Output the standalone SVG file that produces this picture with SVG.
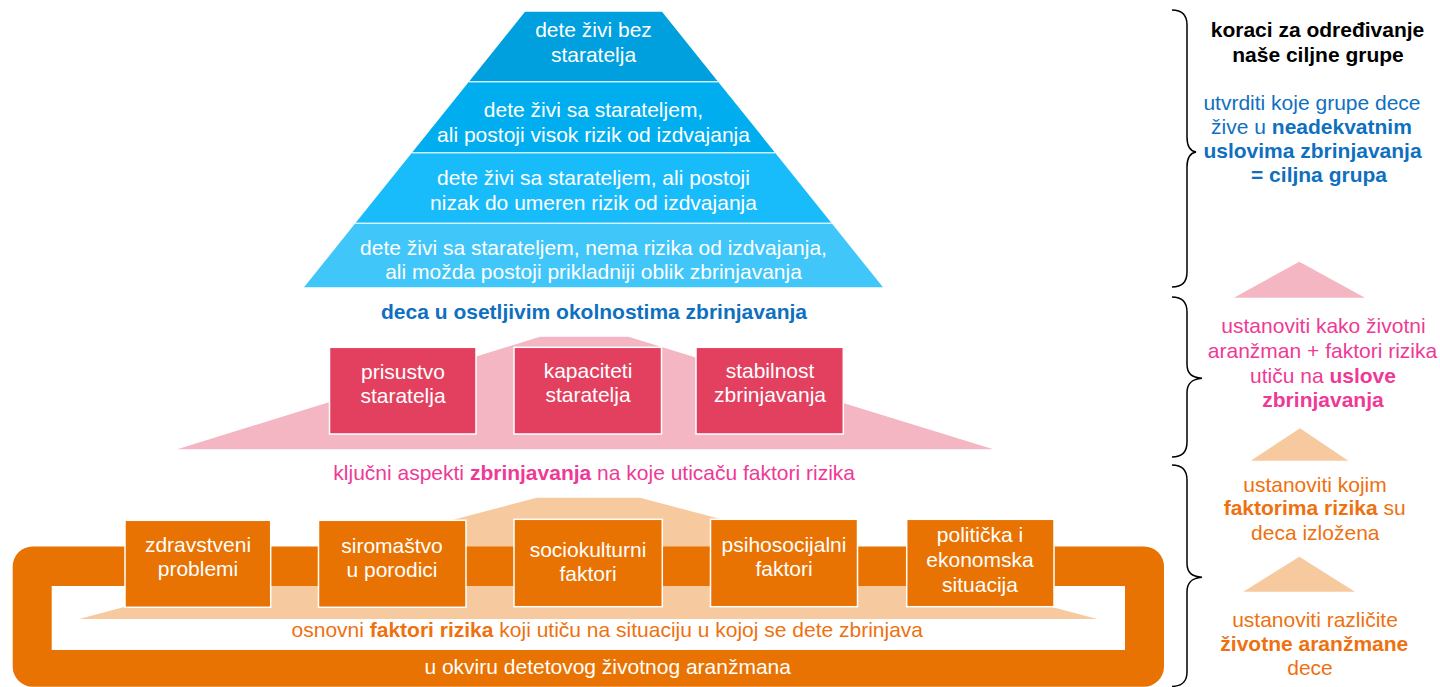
<svg xmlns="http://www.w3.org/2000/svg" width="1440" height="687" viewBox="0 0 1440 687">
<style>
.t{font-family:"Liberation Sans",Arial,sans-serif;font-size:21px;text-anchor:middle}
.w{fill:#ffffff}
.b{font-weight:bold}
.blue{fill:#0F70C0}
.pink{fill:#EE3A96}
.org{fill:#EE7110}
.blk{fill:#000000}
.pbox{fill:#E3405F;stroke:#ffffff;stroke-width:1.5}
.obox{fill:#E97302;stroke:#ffffff;stroke-width:1.5}
.sep{stroke:#ffffff;stroke-width:1.5;stroke-opacity:0.75}
.brace{fill:none;stroke:#000000;stroke-width:1.5}
</style>

<g id="pyramid">
  <polygon points="525,11.7 662,11.7 718.1,81.7 468.9,81.7" fill="#009FDD"/>
  <polygon points="468.9,81.7 718.1,81.7 775.1,152.7 411.9,152.7" fill="#00AEEF"/>
  <polygon points="411.9,152.7 775.1,152.7 831.7,223.3 355.3,223.3" fill="#19BCFA"/>
  <polygon points="355.3,223.3 831.7,223.3 883,287.3 304,287.3" fill="#41C6FA"/>
  <line class="sep" x1="468.9" y1="81.7" x2="718.1" y2="81.7"/>
  <line class="sep" x1="411.9" y1="152.7" x2="775.1" y2="152.7"/>
  <line class="sep" x1="355.3" y1="223.3" x2="831.7" y2="223.3"/>
</g>
<g id="level1">
  <text class="t w" x="593.5" y="36.7">dete živi bez</text>
  <text class="t w" x="593.5" y="61.7">staratelja</text>
</g>
<g id="level2">
  <text class="t w" x="593.5" y="116.7">dete živi sa starateljem,</text>
  <text class="t w" x="593.5" y="141.7">ali postoji visok rizik od izdvajanja</text>
</g>
<g id="level3">
  <text class="t w" x="593.5" y="185">dete živi sa starateljem, ali postoji</text>
  <text class="t w" x="593.5" y="210">nizak do umeren rizik od izdvajanja</text>
</g>
<g id="level4">
  <text class="t w" x="593.5" y="255">dete živi sa starateljem, nema rizika od izdvajanja,</text>
  <text class="t w" x="593.5" y="279">ali možda postoji prikladniji oblik zbrinjavanja</text>
</g>
<g id="title-vulnerable">
  <text class="t b blue" x="594" y="319">deca u osetljivim okolnostima zbrinjavanja</text>
</g>

<g id="care-aspects">
  <polygon points="540,336.7 628.3,336.7 993.3,449.3 177.3,449.3" fill="#F3B6C2"/>
</g>
<g id="aspect-presence">
  <rect class="pbox" x="329.5" y="347.3" width="146.5" height="86.7"/>
  <text class="t w" x="403" y="379">prisustvo</text>
  <text class="t w" x="403" y="403">staratelja</text>
</g>
<g id="aspect-capacity">
  <rect class="pbox" x="514" y="347.3" width="147.5" height="86.7"/>
  <text class="t w" x="588" y="377.5">kapaciteti</text>
  <text class="t w" x="588" y="401.5">staratelja</text>
</g>
<g id="aspect-stability">
  <rect class="pbox" x="696" y="347.3" width="147.3" height="86.7"/>
  <text class="t w" x="770" y="377.5">stabilnost</text>
  <text class="t w" x="770" y="401.5">zbrinjavanja</text>
</g>
<g id="title-aspects">
  <text class="t pink" x="594.2" y="479.5">ključni aspekti <tspan class="b">zbrinjavanja</tspan> na koje uticaču faktori rizika</text>
</g>

<g id="risk-base">
  <polygon points="536.7,497.7 640,497.7 1097.3,619 79,619" fill="#F7C99E"/>
</g>
<g id="living-arrangement">
  <path fill="#E97302" fill-rule="evenodd" d="M32.7,546.5 H1144 A20,20 0 0 1 1164,566.5 V666.7 A20,20 0 0 1 1144,686.7 H32.7 A20,20 0 0 1 12.7,666.7 V566.5 A20,20 0 0 1 32.7,546.5 Z M51.7,586 V650 H1125 V586 Z"/>
  <text class="t w" x="607.7" y="674">u okviru detetovog životnog aranžmana</text>
</g>
<g id="risk-health">
  <rect class="obox" x="125" y="520.3" width="145.7" height="87"/>
  <text class="t w" x="198" y="552">zdravstveni</text>
  <text class="t w" x="198" y="576">problemi</text>
</g>
<g id="risk-poverty">
  <rect class="obox" x="318.5" y="520.3" width="147.5" height="87"/>
  <text class="t w" x="392" y="553">siromaštvo</text>
  <text class="t w" x="392" y="577">u porodici</text>
</g>
<g id="risk-sociocultural">
  <rect class="obox" x="514" y="519.3" width="148.3" height="87.4"/>
  <text class="t w" x="588" y="557">sociokulturni</text>
  <text class="t w" x="588" y="580.5">faktori</text>
</g>
<g id="risk-psychosocial">
  <rect class="obox" x="710.5" y="519.3" width="147" height="87.4"/>
  <text class="t w" x="784" y="552">psihosocijalni</text>
  <text class="t w" x="784" y="576">faktori</text>
</g>
<g id="risk-political">
  <rect class="obox" x="906.7" y="519.3" width="147.3" height="87.4"/>
  <text class="t w" x="980" y="542">politička i</text>
  <text class="t w" x="980" y="566.5">ekonomska</text>
  <text class="t w" x="980" y="591.5">situacija</text>
</g>
<g id="title-risks">
  <text class="t org" x="607.3" y="637.3">osnovni <tspan class="b">faktori rizika</tspan> koji utiču na situaciju u kojoj se dete zbrinjava</text>
</g>

<g id="braces">
  <path class="brace" d="M1172,10 C1182,10 1187,15 1187,25 L1187,137 C1187,147 1190,151 1196,152 C1190,153 1187,157 1187,167 L1187,272 C1187,282 1182,287 1172,287"/>
  <path class="brace" d="M1172,297 C1182,297 1187,302 1187,312 L1187,364 C1187,374 1192,377.5 1202,378.3 C1192,379 1187,383 1187,393 L1187,442 C1187,452 1182,457 1172,457"/>
  <path class="brace" d="M1172,465 C1182,465 1187,470 1187,480 L1187,563 C1187,573 1192,576.5 1202,577.3 C1192,578 1187,582 1187,592 L1187,672 C1187,682 1182,686 1172,686.5"/>
</g>

<g id="step-heading">
  <text class="t b blk" x="1317.5" y="36.7">koraci za određivanje</text>
  <text class="t b blk" x="1318" y="61.7">naše ciljne grupe</text>
</g>
<g id="step-target">
  <text class="t blue" x="1312" y="109.5">utvrditi koje grupe dece</text>
  <text class="t blue" x="1311.5" y="133.5">žive u <tspan class="b">neadekvatnim</tspan></text>
  <text class="t b blue" x="1312.5" y="157.5">uslovima zbrinjavanja</text>
  <text class="t b blue" x="1319" y="181.5">= ciljna grupa</text>
</g>
<g id="step-arrow-pink">
  <polygon points="1299.3,261.7 1365,297.7 1234,297.7" fill="#F3B6C2"/>
</g>
<g id="step-care">
  <text class="t pink" x="1323.5" y="333.3">ustanoviti kako životni</text>
  <text class="t pink" x="1322.5" y="358.3">aranžman + faktori rizika</text>
  <text class="t pink" x="1323" y="383">utiču na <tspan class="b">uslove</tspan></text>
  <text class="t b pink" x="1323" y="406.7">zbrinjavanja</text>
</g>
<g id="step-arrow-peach1">
  <polygon points="1300,428.3 1348.3,460.7 1250.7,460.7" fill="#F7C99E"/>
</g>
<g id="step-risks">
  <text class="t org" x="1315" y="491.7">ustanoviti kojim</text>
  <text class="t org" x="1314.7" y="515"><tspan class="b">faktorima rizika</tspan> su</text>
  <text class="t org" x="1315.3" y="540">deca izložena</text>
</g>
<g id="step-arrow-peach2">
  <polygon points="1299.3,556.7 1355,591.7 1243.3,591.7" fill="#F7C99E"/>
</g>
<g id="step-arrangements">
  <text class="t org" x="1315" y="626.7">ustanoviti različite</text>
  <text class="t b org" x="1314.3" y="650.7">životne aranžmane</text>
  <text class="t org" x="1310" y="675">dece</text>
</g>
<g id="connectors"></g>
</svg>
